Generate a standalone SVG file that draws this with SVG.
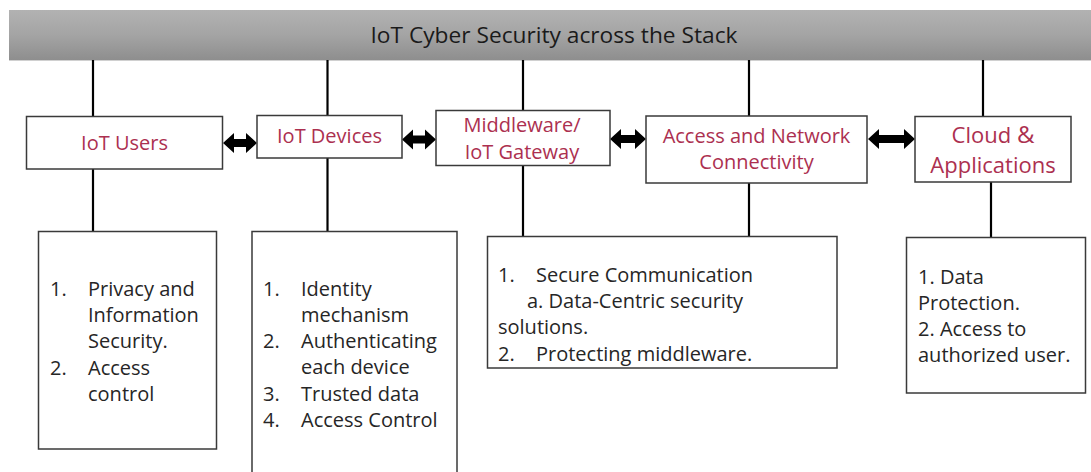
<svg xmlns="http://www.w3.org/2000/svg" width="1091" height="472" viewBox="0 0 1091 472">
<defs>
<linearGradient id="bannerGrad" x1="0" y1="0" x2="0" y2="1">
<stop offset="0" stop-color="#b2b2b2"/>
<stop offset="0.5" stop-color="#a4a4a4"/>
<stop offset="1" stop-color="#8e8e8e"/>
</linearGradient>
</defs>
<style>
.box{fill:#ffffff;stroke:#3a3a3a;stroke-width:1.5}
.lbl{font-family:"Open Sans","Noto Sans",sans-serif;font-size:20px;fill:#ac3050;text-anchor:middle}
.big{font-size:22px}
.txt{font-family:"Open Sans","Noto Sans",sans-serif;font-size:20px;fill:#262626}
.conn line{stroke:#000;stroke-width:2.2}
.arr{fill:#000}
</style>
<rect width="1091" height="472" fill="#ffffff"/>
<g id="banner">
<rect x="9" y="10" width="1082" height="50" fill="url(#bannerGrad)"/>
<line x1="9" y1="60.5" x2="1091" y2="60.5" stroke="#d0d0d0" stroke-width="1"/>
<text x="554" y="43" font-family="'Open Sans','Noto Sans',sans-serif" font-size="22" fill="#1a1a1a" text-anchor="middle" textLength="367" lengthAdjust="spacingAndGlyphs">IoT Cyber Security across the Stack</text>
</g>
<g id="connectors" class="conn">
<line x1="93" y1="60" x2="93" y2="116"/>
<line x1="327.5" y1="60" x2="327.5" y2="115"/>
<line x1="523" y1="60" x2="523" y2="110"/>
<line x1="749" y1="60" x2="749" y2="116"/>
<line x1="983" y1="60" x2="983" y2="116"/>
<line x1="93" y1="169" x2="93" y2="231"/>
<line x1="327.5" y1="158" x2="327.5" y2="231"/>
<line x1="523" y1="165" x2="523" y2="236"/>
<line x1="749" y1="183" x2="749" y2="236"/>
<line x1="991" y1="182" x2="991" y2="237"/>
<polygon class="arr" points="223,143 234,133 234,139 246,139 246,133 257,143 246,153 246,147 234,147 234,153"/>
<polygon class="arr" points="402,139.5 413,129.5 413,135.5 425,135.5 425,129.5 436,139.5 425,149.5 425,143.5 413,143.5 413,149.5"/>
<polygon class="arr" points="610,139 621,129 621,135 635,135 635,129 646,139 635,149 635,143 621,143 621,149"/>
<polygon class="arr" points="868,139 879,129 879,135 904,135 904,129 915,139 904,149 904,143 879,143 879,149"/>
</g>
<g id="node-users">
<rect class="box" x="26.5" y="116.5" width="196" height="52.5"/>
<text class="lbl" x="124.5" y="150">IoT Users</text>
</g>
<g id="node-devices">
<rect class="box" x="257" y="115.5" width="145" height="42.5"/>
<text class="lbl" x="329.5" y="143">IoT Devices</text>
</g>
<g id="node-middleware">
<rect class="box" x="436" y="110.5" width="174" height="55"/>
<text class="lbl" x="522" y="132">Middleware/</text>
<text class="lbl" x="522" y="159">IoT Gateway</text>
</g>
<g id="node-access">
<rect class="box" x="646" y="116" width="221" height="67"/>
<text class="lbl" x="756.5" y="143">Access and Network</text>
<text class="lbl" x="756.5" y="169">Connectivity</text>
</g>
<g id="node-cloud">
<rect class="box" x="915" y="116.5" width="156" height="65.5"/>
<text class="lbl big" x="993" y="143">Cloud <tspan style="font-size:24px">&amp;</tspan></text>
<text class="lbl big" x="993" y="173">Applications</text>
</g>
<g id="box-users">
<rect class="box" x="38.5" y="231.5" width="178" height="217.5"/>
<text class="txt" x="50" y="296">1.</text>
<text class="txt" x="88" y="296">Privacy and</text>
<text class="txt" x="88" y="322">Information</text>
<text class="txt" x="88" y="348">Security.</text>
<text class="txt" x="50" y="375">2.</text>
<text class="txt" x="88" y="375">Access</text>
<text class="txt" x="88" y="401">control</text>
</g>
<g id="box-devices">
<rect class="box" x="252" y="231.5" width="205" height="250"/>
<text class="txt" x="263" y="296">1.</text>
<text class="txt" x="301" y="296">Identity</text>
<text class="txt" x="301" y="322">mechanism</text>
<text class="txt" x="263" y="348">2.</text>
<text class="txt" x="301" y="348">Authenticating</text>
<text class="txt" x="301" y="374">each device</text>
<text class="txt" x="263" y="401">3.</text>
<text class="txt" x="301" y="401">Trusted data</text>
<text class="txt" x="263" y="427">4.</text>
<text class="txt" x="301" y="427">Access Control</text>
</g>
<g id="box-middleware">
<rect class="box" x="487.5" y="236.5" width="349.5" height="131.5"/>
<text class="txt" x="498" y="282">1.</text>
<text class="txt" x="536" y="282">Secure Communication</text>
<text class="txt" x="527" y="308">a. Data-Centric security</text>
<text class="txt" x="498" y="334">solutions.</text>
<text class="txt" x="498" y="361">2.</text>
<text class="txt" x="536" y="361">Protecting middleware.</text>
</g>
<g id="box-cloud">
<rect class="box" x="906.5" y="237.5" width="179" height="155.5"/>
<text class="txt" x="918" y="284">1. Data</text>
<text class="txt" x="918" y="310">Protection.</text>
<text class="txt" x="918" y="336">2. Access to</text>
<text class="txt" x="918" y="362">authorized user.</text>
</g>
</svg>
